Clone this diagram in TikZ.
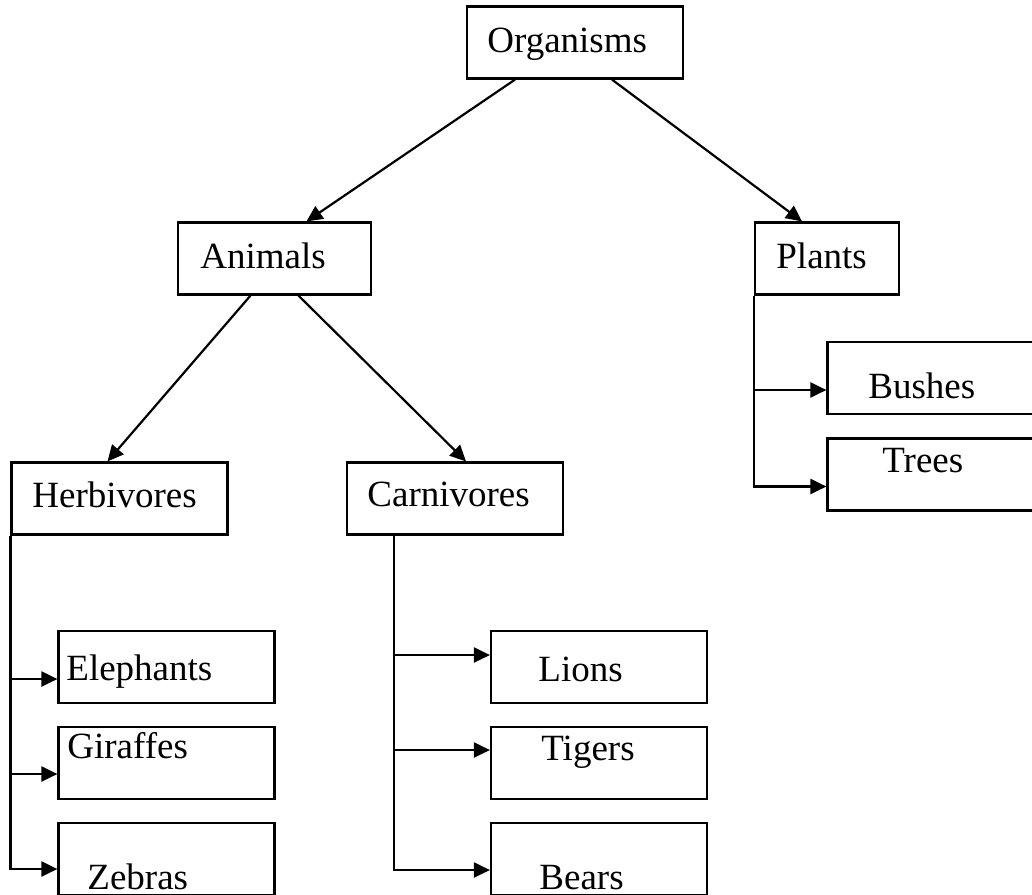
\documentclass[tikz,border=0pt]{standalone}
\usepackage{fontspec}
\setmainfont{Liberation Serif}
\usetikzlibrary{arrows.meta}
\tikzset{
  box/.style={draw,line width=1.1pt,minimum width=108pt,minimum height=36pt,inner sep=0pt},
  word/.style={anchor=base west,inner sep=0pt,font=\fontsize{18.5}{22}\selectfont},
  arr/.style={line width=1.1pt,-{Triangle[length=8pt,width=7.5pt]}}
}
\begin{document}
\begin{tikzpicture}[x=0.5pt,y=-0.5pt]
\clip(0,0)rectangle(1032,894);
%
\node[box](org)at(575,42.5){};
\node[box,minimum width=96.5pt](ani)at(274.5,258.5){};
\node[box,minimum width=72pt](pla)at(827,258.5){};
\node[box](herb)at(119.5,498.5){};
\node[box](carn)at(455,498.5){};
\node[box](bush)at(935.5,378){};
\node[box](tree)at(935.5,474.5){};
\node[box](elep)at(166.5,667){};
\node[box](gira)at(166.5,763){};
\node[box](zebr)at(166.5,859){};
\node[box](lion)at(599,667){};
\node[box](tige)at(599,763){};
\node[box](bear)at(599,859){};
%
\node[word](torg)at(487,52){Organisms};
\node[word](tani)at(200,268){Animals};
\node[word](tpla)at(776,268){Plants};
\node[word](therb)at(32,507){Herbivores};
\node[word](tcarn)at(367,506){Carnivores};
\node[word](tbush)at(868,398){Bushes};
\node[word](ttree)at(882,472){Trees};
\node[word](telep)at(66,680){Elephants};
\node[word](tgira)at(67,758){Giraffes};
\node[word](tzebr)at(87,889){Zebras};
\node[word](tlion)at(538,681){Lions};
\node[word](ttige)at(541,760){Tigers};
\node[word](tbear)at(539,889){Bears};
%
\draw[arr]([xshift=-30pt]org.south)--([xshift=16pt]ani.north);
\draw[arr]([xshift=18.5pt]org.south)--([xshift=-12.5pt]pla.north);
\draw[arr]([xshift=-12pt]ani.south)--([xshift=-6pt]herb.north);
\draw[arr]([xshift=12pt]ani.south)--([xshift=5.5pt]carn.north);
%
\draw[arr](pla.south west)|-([yshift=-6pt]bush.west);
\draw[arr](pla.south west)|-([yshift=-6pt]tree.west);
\draw[arr](herb.south west)|-([yshift=-6pt]elep.west);
\draw[arr](herb.south west)|-([yshift=-5.5pt]gira.west);
\draw[arr](herb.south west)|-([yshift=-5pt]zebr.west);
\draw[arr]([xshift=24pt]carn.south west)|-([yshift=6pt]lion.west);
\draw[arr]([xshift=24pt]carn.south west)|-([yshift=6.5pt]tige.west);
\draw[arr]([xshift=24pt]carn.south west)|-([yshift=-5.5pt]bear.west);
\end{tikzpicture}
\end{document}
